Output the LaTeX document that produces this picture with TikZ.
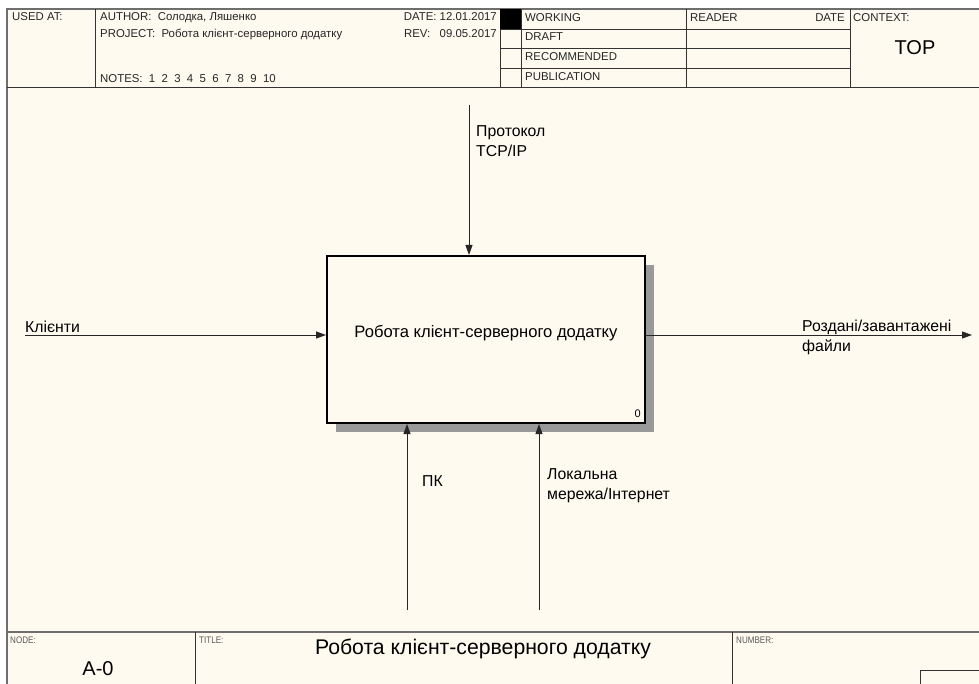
\documentclass[tikz,border=0pt]{standalone}
\usepackage{fontspec}
\setmainfont{Liberation Sans}
\usetikzlibrary{arrows.meta}
\definecolor{paper}{RGB}{255,250,240}
\definecolor{frameline}{RGB}{110,110,110}
\tikzset{
  hdr/.style={font=\fontsize{11.4}{12}\selectfont, inner sep=0pt, text=black!85},
  small/.style={font=\fontsize{9.5}{10}\selectfont, inner sep=0pt, text=black!65, xscale=0.85},
  lbl/.style={font=\fontsize{15.8}{20}\selectfont, inner sep=0pt, align=left},
  flow/.style={draw=black!85, line width=0.9pt, -{Triangle[length=10pt,width=7pt]}},
  func/.style={draw=black, line width=2pt, fill=paper, minimum width=318pt, minimum height=167pt, inner sep=0pt},
  shadow/.style={fill=black!40, draw=none},
  grid/.style={draw=black!80, line width=0.8pt},
}
\begin{document}
\begin{tikzpicture}[x=1pt,y=-1pt]
\useasboundingbox (0,0) rectangle (979,684);
\fill[white] (0,0) rectangle (979,684);
\fill[paper] (7,9) rectangle (979,684);
% frame
\draw[frameline, line width=1.2pt] (979,9) -- (7,9) -- (7,684);
\draw[grid] (7,87) -- (979,87);
\draw[frameline, line width=1.5pt] (7,632) -- (979,632);
% header grid
\draw[grid] (95,9) -- (95,87);
\draw[grid] (500,9) -- (500,87);
\draw[grid] (521,9) -- (521,87);
\draw[grid] (686,9) -- (686,87);
\draw[grid] (850,9) -- (850,87);
\draw[grid] (500,29) -- (850,29);
\draw[grid] (500,48) -- (850,48);
\draw[grid] (500,68) -- (850,68);
\fill[black] (500,9) rectangle (521,29);
% header texts
\node[hdr, anchor=base west] (usedat) at (12,21) {USED AT:};
\node[hdr, anchor=base west] (author) at (100,21) {AUTHOR:\ \ Солодка, Ляшенко};
\node[hdr, anchor=base west] (project) at (100,38) {PROJECT:\ \ Робота клієнт-серверного додатку};
\node[hdr, anchor=base west] (notes) at (100,83) {NOTES:\ \ 1\ \ 2\ \ 3\ \ 4\ \ 5\ \ 6\ \ 7\ \ 8\ \ 9\ \ 10};
\node[hdr, anchor=base east] (date) at (497,21) {DATE: 12.01.2017};
\node[hdr, anchor=base east] (rev) at (497,38) {REV:\ \ \ 09.05.2017};
\node[hdr, anchor=base west] (working) at (525,22) {WORKING};
\node[hdr, anchor=base west] (draft) at (525,41) {DRAFT};
\node[hdr, anchor=base west] (recom) at (525,61) {RECOMMENDED};
\node[hdr, anchor=base west] (publ) at (525,81) {PUBLICATION};
\node[hdr, anchor=base west] (reader) at (690,22) {READER};
\node[hdr, anchor=base east] (rdate) at (845,22) {DATE};
\node[hdr, anchor=base west] (context) at (853,22) {CONTEXT:};
\node[font=\fontsize{20}{22}\selectfont, inner sep=0pt, anchor=base] (top) at (915,55) {TOP};
% function box with shadow
\fill[shadow] (645,265) rectangle (654,432);
\fill[shadow] (336,423) rectangle (654,432);
\node[func] (fn) at (486,339.5) {};
\node[font=\fontsize{16.6}{18}\selectfont, inner sep=0pt, anchor=base] (fntext) at (486,337.5) {Робота клієнт-серверного додатку};
\node[font=\fontsize{11}{12}\selectfont, inner sep=0pt, anchor=base east] (fnnum) at (641,417) {0};
% input
\coordinate (inL) at (25,335);
\draw[flow] (inL) -- (inL -| fn.west);
\node[lbl, anchor=base west] (inlbl) at (25,333) {Клієнти};
% output
\coordinate (outR) at (972,335);
\draw[flow] (outR -| fn.east) -- (outR);
\node[lbl, anchor=north west] (outlbl) at (802,320) {Роздані/завантажені\\файли};
% control
\coordinate (ctlT) at (469,105);
\draw[flow] (ctlT) -- (ctlT |- fn.north);
\node[lbl, anchor=north west] (ctllbl) at (476,125.5) {Протокол\\TCP/IP};
% mechanisms
\coordinate (m1) at (407,610);
\coordinate (m2) at (539,610);
\draw[flow] (m1) -- (m1 |- fn.south);
\draw[flow] (m2) -- (m2 |- fn.south);
\node[lbl, anchor=base west] (m1lbl) at (422,486) {ПК};
\node[lbl, anchor=north west] (m2lbl) at (547,468.5) {Локальна\\мережа/Інтернет};
% footer
\draw[grid] (195,632) -- (195,684);
\draw[grid] (732,632) -- (732,684);
\node[small, anchor=base west] (nodelbl) at (10,643) {NODE:};
\node[small, anchor=base west] (titlelbl) at (199,643) {TITLE:};
\node[small, anchor=base west] (numlbl) at (736,643) {NUMBER:};
\node[font=\fontsize{20}{22}\selectfont, inner sep=0pt, anchor=base] (nodeval) at (98,675) {A-0};
\node[font=\fontsize{21.2}{22}\selectfont, inner sep=0pt, anchor=base] (titleval) at (483,654) {Робота клієнт-серверного додатку};
\draw[black!80, line width=0.9pt] (979,670) -- (920,670) -- (920,684);
\end{tikzpicture}
\end{document}
